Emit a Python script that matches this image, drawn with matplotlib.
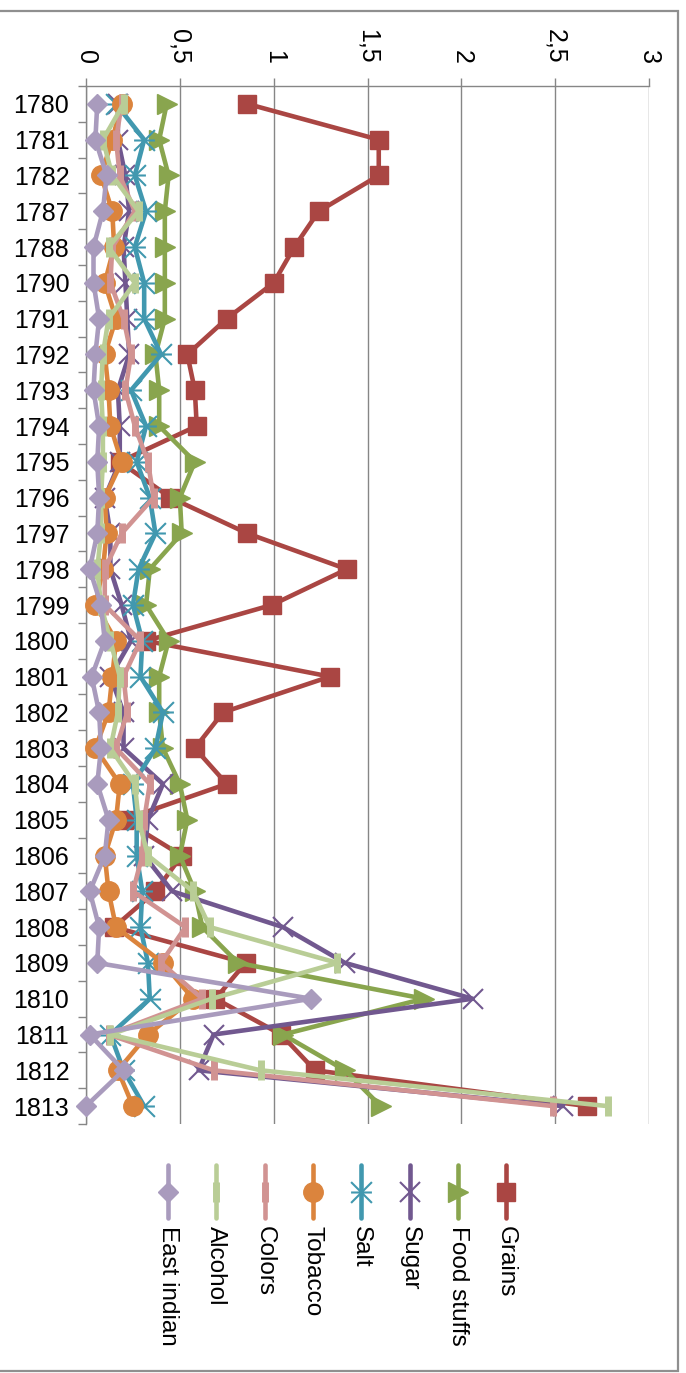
import matplotlib
matplotlib.use("Agg")
import matplotlib.pyplot as plt
import numpy as np
from matplotlib.lines import Line2D
from matplotlib.patches import Rectangle
from matplotlib.path import Path

plt.rcParams['font.family'] = ['Liberation Sans', 'DejaVu Sans']

years = ["1780", "1781", "1782", "1787", "1788", "1790", "1791", "1792", "1793", "1794",
         "1795", "1796", "1797", "1798", "1799", "1800", "1801", "1802", "1803", "1804",
         "1805", "1806", "1807", "1808", "1809", "1810", "1811", "1812", "1813"]

grains = [0.86, 1.56, 1.56, 1.24, 1.11, 1.00, 0.75, 0.54, 0.58, 0.59,
          0.18, 0.45, 0.86, 1.39, 0.99, 0.32, 1.30, 0.73, 0.58, 0.75,
          0.20, 0.51, 0.37, 0.15, 0.85, 0.69, 1.04, 1.22, 2.67]
food_stuffs = [0.43, 0.39, 0.44, 0.42, 0.42, 0.42, 0.42, 0.37, 0.39, 0.39,
               0.58, 0.50, 0.51, 0.34, 0.32, 0.44, 0.39, 0.39, 0.41, 0.50,
               0.54, 0.50, 0.58, 0.62, 0.81, 1.80, 1.05, 1.38, 1.57]
sugar = [0.17, 0.17, 0.21, 0.23, 0.20, 0.21, 0.22, 0.23, 0.17, 0.18,
         0.18, 0.10, 0.13, 0.13, 0.19, 0.24, 0.13, 0.20, 0.20, 0.41,
         0.33, 0.31, 0.46, 1.05, 1.38, 2.06, 0.68, 0.60, 2.54]
salt = [0.16, 0.31, 0.26, 0.32, 0.26, 0.31, 0.31, 0.40, 0.24, 0.32,
        0.27, 0.34, 0.37, 0.28, 0.25, 0.30, 0.29, 0.41, 0.37, 0.25,
        0.27, 0.27, 0.30, 0.29, 0.33, 0.34, 0.13, 0.20, 0.31]
tobacco = [0.19, 0.14, 0.08, 0.14, 0.15, 0.10, 0.16, 0.10, 0.12, 0.13,
           0.19, 0.10, 0.11, 0.09, 0.05, 0.16, 0.14, 0.12, 0.05, 0.18,
           0.16, 0.10, 0.12, 0.16, 0.41, 0.57, 0.33, 0.17, 0.25]
colors_ = [0.19, 0.16, 0.18, 0.26, 0.14, 0.13, 0.20, 0.24, 0.21, 0.26,
           0.33, 0.36, 0.19, 0.10, 0.10, 0.29, 0.20, 0.22, 0.16, 0.34,
           0.31, 0.30, 0.25, 0.53, 0.40, 0.62, 0.12, 0.68, 2.49]
alcohol = [0.20, 0.09, 0.14, 0.28, 0.12, 0.26, 0.12, 0.09, 0.08, 0.09,
           0.09, 0.08, 0.08, 0.06, 0.08, 0.13, 0.18, 0.17, 0.13, 0.26,
           0.28, 0.33, 0.57, 0.66, 1.34, 0.67, 0.13, 0.93, 2.78]
east_indian = [0.06, 0.05, 0.11, 0.09, 0.04, 0.04, 0.07, 0.05, 0.04, 0.07,
               0.06, 0.07, 0.06, 0.02, 0.08, 0.10, 0.03, 0.07, 0.08, 0.06,
               0.12, 0.10, 0.02, 0.07, 0.06, 1.20, 0.02, 0.20, 0.00]

series_names = ["Grains", "Food stuffs", "Sugar", "Salt", "Tobacco", "Colors", "Alcohol", "East indian"]
series_values = [grains, food_stuffs, sugar, salt, tobacco, colors_, alcohol, east_indian]
series_colors = ["#AA4643", "#89A54E", "#71588F", "#4198AF", "#DB843D", "#D19392", "#B9CD96", "#A99BBD"]

value_ticks = [0, 0.5, 1, 1.5, 2, 2.5, 3]
value_tick_labels = ["0", "0,5", "1", "1,5", "2", "2,5", "3"]

star_path = Path([(-1, -1), (1, 1), (-1, 1), (1, -1), (-1, 0), (1, 0)],
                 [Path.MOVETO, Path.LINETO, Path.MOVETO, Path.LINETO, Path.MOVETO, Path.LINETO])

marker_styles = [
    dict(marker='s', markersize=13.5, markeredgewidth=1),
    dict(marker='>', markersize=15, markeredgewidth=1),
    dict(marker='x', markersize=15, markeredgewidth=1.5),
    dict(marker=star_path, markersize=15, markeredgewidth=1.5),
    dict(marker='o', markersize=14, markeredgewidth=1),
    dict(marker='|', markersize=15, markeredgewidth=5),
    dict(marker='|', markersize=15, markeredgewidth=5),
    dict(marker='D', markersize=10.5, markeredgewidth=1),
]

W, H = 686, 1373
fig = plt.figure(figsize=(W / 100, H / 100), dpi=100)
fig.patch.set_facecolor('white')

x0, x1, ytop, ybot = 86, 649, 86, 1124
ax = fig.add_axes([x0 / W, 1 - ybot / H, (x1 - x0) / W, (ybot - ytop) / H])

gray = '#868686'
idx = np.arange(len(years))
for name, vals, col, ms in zip(series_names, series_values, series_colors, marker_styles):
    ax.plot(vals, idx, color=col, lw=3.3, solid_joinstyle='round', solid_capstyle='round',
            markerfacecolor=col, markeredgecolor=col, clip_on=False, zorder=3, **ms)

ax.set_xlim(0, 3)
ax.set_ylim(len(years) - 0.5, -0.5)

ax.xaxis.tick_top()
ax.set_xticks(value_ticks)
ax.set_xticklabels(value_tick_labels, rotation=-90, fontsize=18)
ax.tick_params(axis='x', which='major', direction='out', length=5.8, width=1, color=gray, pad=10)

ax.set_yticks(idx)
ax.set_yticklabels(years, fontsize=18)
ax.set_yticks(np.arange(-0.5, len(years), 1), minor=True)
ax.tick_params(axis='y', which='major', length=0, pad=12)
ax.tick_params(axis='y', which='minor', direction='out', length=5.8, width=1, color=gray)

ax.grid(axis='x', color=gray, lw=1)
ax.set_axisbelow(True)
for s in ['right', 'bottom']:
    ax.spines[s].set_visible(False)
for s in ['top', 'left']:
    ax.spines[s].set_color(gray)
    ax.spines[s].set_linewidth(1)

# chart area border
fig.patches.append(Rectangle((-3 / W, 1 - 1371 / H), (678 + 3) / W, (1371 - 11) / H,
                             transform=fig.transFigure, fill=False, edgecolor='#8f8f8f', lw=1.6))

# legend (rotated)
leg_x0, leg_dx = 168, 48.3
for i, (name, col, ms) in enumerate(zip(series_names[::-1], series_colors[::-1], marker_styles[::-1])):
    xp = (leg_x0 + leg_dx * i) / W
    fig.add_artist(Line2D([xp, xp], [1 - 1165 / H, 1 - 1218 / H], transform=fig.transFigure,
                          color=col, lw=3.3, solid_capstyle='round'))
    fig.add_artist(Line2D([xp], [1 - 1192 / H], transform=fig.transFigure, color=col,
                          markerfacecolor=col, markeredgecolor=col, linestyle='none', **ms))
    fig.text(xp, 1 - 1226 / H, name, rotation=-90, ha='center', va='top', fontsize=17.5)

fig.savefig('out.png', dpi=100)
